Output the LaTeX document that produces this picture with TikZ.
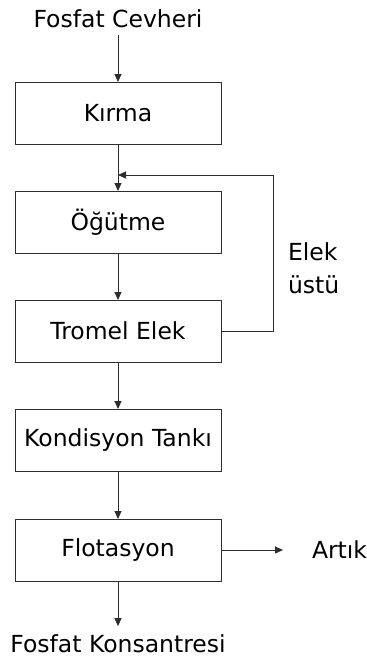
\documentclass[tikz,border=0pt]{standalone}
\usepackage{fontspec}
\setmainfont{DejaVu Sans}
\usetikzlibrary{arrows.meta}
\definecolor{ln}{RGB}{45,45,45}
\tikzset{
  procbox/.style={draw=ln, line width=1pt, minimum width=206pt, minimum height=62pt, inner sep=0pt, outer sep=0pt},
  lbl/.style={inner sep=0pt, outer sep=0pt},
  conn/.style={draw=ln, line width=1pt},
  arr/.style={conn, -{Triangle[length=8pt,width=7pt]}},
}
\begin{document}
\begin{tikzpicture}[x=1pt,y=-1pt, font=\fontsize{23.5}{33}\selectfont]
\useasboundingbox (0,0) rectangle (367,657);
\node[lbl, anchor=base] (fc) at (118,27) {Fosfat Cevheri};
\node[procbox] (kirma) at (118,113) {Kırma};
\node[procbox] (ogutme) at (118,222) {Öğütme};
\node[procbox] (tromel) at (118,331) {Tromel Elek};
\node[procbox] (kond) at (118,440) {Kondisyon Tankı};
\node[procbox] (flot) at (118,550) {Flotasyon};
\node[lbl, anchor=base] (fk) at (118,652) {Fosfat Konsantresi};
\node[lbl, anchor=base west] (elek) at (288,260) {Elek};
\node[lbl, anchor=base west] (ustu) at (288,293) {üstü};
\node[lbl, anchor=base west] (artik) at (312,558) {Artık};
\coordinate (fbx) at (273,175);
\coordinate (merge) at (118,175);
\coordinate (artin) at (283,550);

\draw[arr, shorten <=8pt] (fc.south) -- (kirma.north);
\draw[arr] (kirma.south) -- (ogutme.north);
\draw[arr] (ogutme.south) -- (tromel.north);
\draw[arr] (tromel.south) -- (kond.north);
\draw[arr] (kond.south) -- (flot.north);
\draw[arr, shorten >=8pt] (flot.south) -- (fk.north);
\draw[arr] (tromel.east) -| (fbx) -- (merge);
\draw[arr] (flot.east) -- (artin);
\end{tikzpicture}
\end{document}
